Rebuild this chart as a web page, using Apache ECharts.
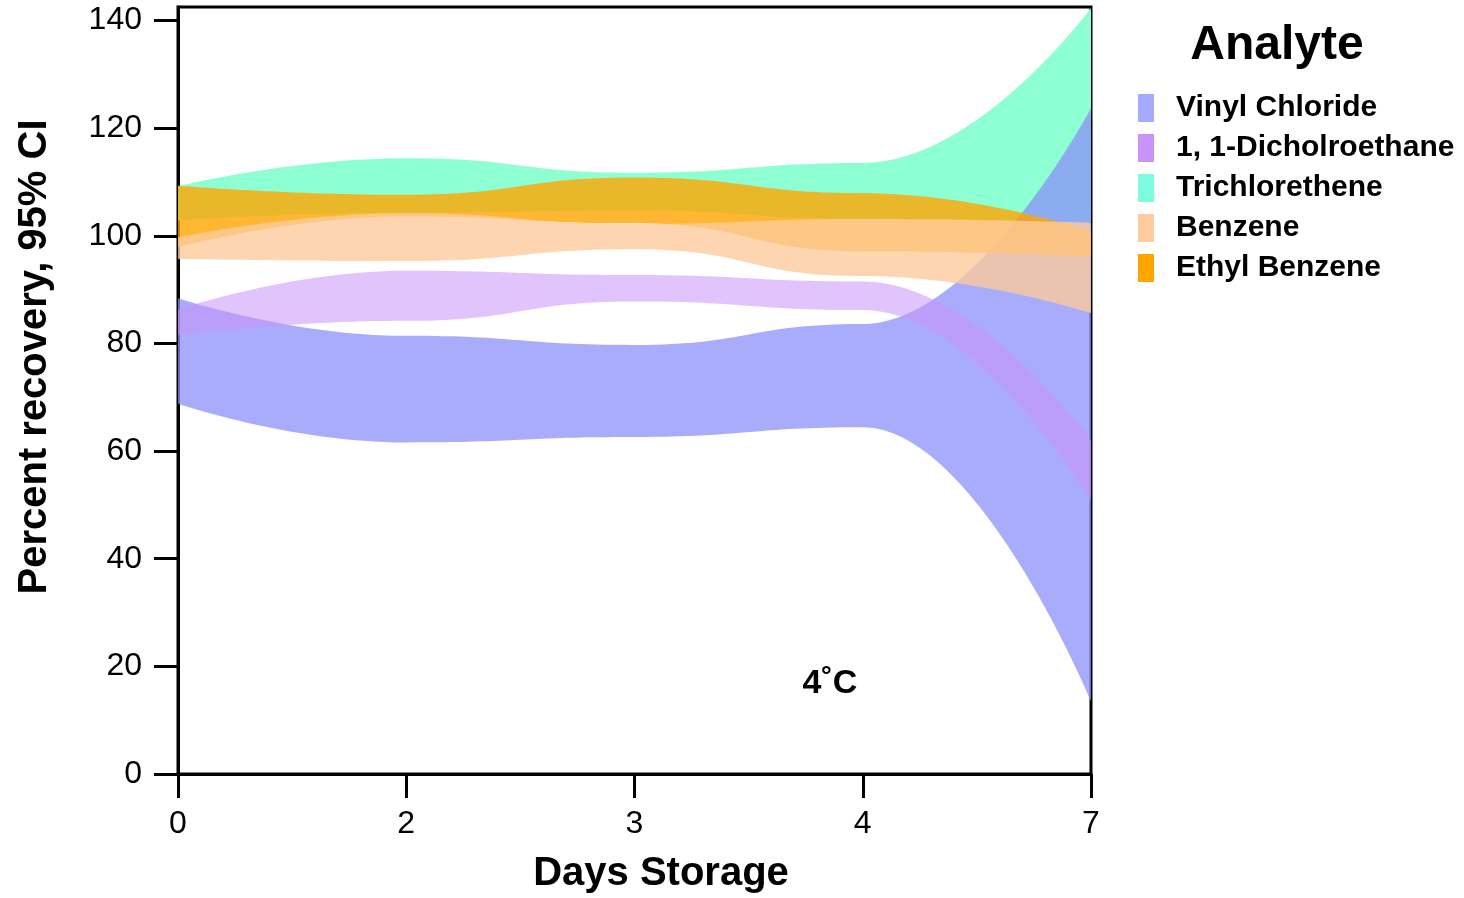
<!DOCTYPE html>
<html>
<head>
<meta charset="utf-8">
<script src="https://cdn.jsdelivr.net/npm/echarts@6/dist/echarts.min.js"></script>
<style>
html, body { margin: 0; padding: 0; background: #fff; }
#chart { width: 1464px; height: 898px; }
</style>
</head>
<body>
<div id="chart"></div>
<script>
// days of storage (category axis) and y tick values
var days = ['0', '2', '3', '4', '7'];
var yTicks = [0, 20, 40, 60, 80, 100, 120, 140];

// 95% CI bands, lower / upper bound per day
var vinylLo = [68.8, 61.6, 62.6, 64.4, 13.6];
var vinylHi = [88.4, 81.4, 79.7, 83.6, 123.7];
var dceLo   = [81.5, 84.2, 87.8, 86.2, 50.8];
var dceHi   = [86.3, 93.5, 92.7, 91.5, 62.0];
var tceLo   = [102.8, 104.3, 104.7, 103.1, 102.5];
var tceHi   = [109.2, 114.4, 111.7, 113.5, 142.3];
var benLo   = [95.7, 95.3, 97.5, 92.5, 85.6];
var benHi   = [99.7, 104.2, 102.2, 103.1, 102.4];
var ebLo    = [97.9, 103.6, 102.3, 97.1, 96.1];
var ebHi    = [109.3, 107.6, 110.8, 107.9, 100.8];

var analytes = ['Vinyl Chloride', '1, 1-Dicholroethane', 'Trichlorethene', 'Benzene', 'Ethyl Benzene'];
var legendColors = ['#a5abfc', '#c994fa', '#7dfce0', '#fecb9f', '#ffa500'];

var myChart = echarts.init(document.getElementById('chart'));

// one band = invisible lower line + stacked difference filled as area
function band(name, lo, hi, fill, opacity, z) {
    var diff = hi.map(function (v, i) { return +(v - lo[i]).toFixed(2); });
    var common = {
        type: 'line',
        stack: name,
        smooth: 0.5,
        smoothMonotone: 'x',
        symbol: 'none',
        silent: true,
        z: z,
        lineStyle: { width: 0, opacity: 0 }
    };
    return [
        Object.assign({ name: name + ' lo', data: lo }, common),
        Object.assign({ name: name, data: diff, areaStyle: { color: fill, opacity: opacity } }, common)
    ];
}

// draw order: green at the bottom, peach on top
var series = [].concat(
    band(analytes[2], tceLo, tceHi, '#8effd2', 1, 2),
    band(analytes[0], vinylLo, vinylHi, '#8b90fa', 0.75, 3),
    band(analytes[1], dceLo, dceHi, '#c994fa', 0.55, 4),
    band(analytes[4], ebLo, ebHi, '#ffa500', 0.8, 5),
    band(analytes[3], benLo, benHi, '#fdcb9c', 0.79, 6)
);

var font = "'Liberation Sans', Arial, Helvetica, sans-serif";

option = {
    animation: false,
    grid: {
        left: 178, right: 373, top: 7, bottom: 124,
        show: true, borderColor: '#000', borderWidth: 3
    },
    xAxis: {
        type: 'category',
        data: days,
        boundaryGap: false,
        axisLine: { lineStyle: { color: '#000', width: 3 } },
        axisTick: { alignWithLabel: true, length: 24, lineStyle: { color: '#000', width: 3 } },
        axisLabel: { color: '#000', fontSize: 32, fontFamily: font, margin: 34 },
        splitLine: { show: false }
    },
    yAxis: {
        type: 'value',
        min: 0,
        max: 142.5,
        interval: 20,
        axisLine: { show: true, lineStyle: { color: '#000', width: 3 } },
        axisTick: { show: true, length: 24, customValues: yTicks, lineStyle: { color: '#000', width: 3 } },
        axisLabel: { color: '#000', fontSize: 32, fontFamily: font, margin: 36, padding: [10, 0, 0, 0], customValues: yTicks },
        splitLine: { show: false }
    },
    legend: {
        orient: 'vertical',
        left: 1138,
        top: 93,
        padding: 0,
        icon: 'rect',
        itemWidth: 16,
        itemHeight: 28,
        itemGap: 10,
        selectedMode: false,
        textStyle: { color: '#000', fontSize: 30, fontWeight: 'bold', fontFamily: font, lineHeight: 28, padding: [0, 0, 0, 17] },
        data: analytes.map(function (n, i) {
            return { name: n, itemStyle: { color: legendColors[i], borderWidth: 0 } };
        })
    },
    graphic: [
        {
            type: 'text', x: 1277, y: 46,
            style: { text: 'Analyte', fill: '#000', font: 'bold 48px ' + font, textAlign: 'center', textVerticalAlign: 'middle' }
        },
        {
            type: 'text', x: 35, y: 357, rotation: Math.PI / 2,
            style: { text: 'Percent recovery, 95% CI', fill: '#000', font: 'bold 40px ' + font, textAlign: 'center', textVerticalAlign: 'middle' }
        },
        {
            type: 'text', x: 661, y: 874,
            style: { text: 'Days Storage', fill: '#000', font: 'bold 40px ' + font, textAlign: 'center', textVerticalAlign: 'middle' }
        },
        {
            type: 'text', x: 830, y: 684,
            style: { text: '4˚C', fill: '#000', font: 'bold 34px ' + font, textAlign: 'center', textVerticalAlign: 'middle' }
        }
    ],
    series: series
};

myChart.setOption(option);
window.addEventListener('resize', function () {
    if (myChart != null) {
        myChart.resize();
    }
});
</script>
</body>
</html>
